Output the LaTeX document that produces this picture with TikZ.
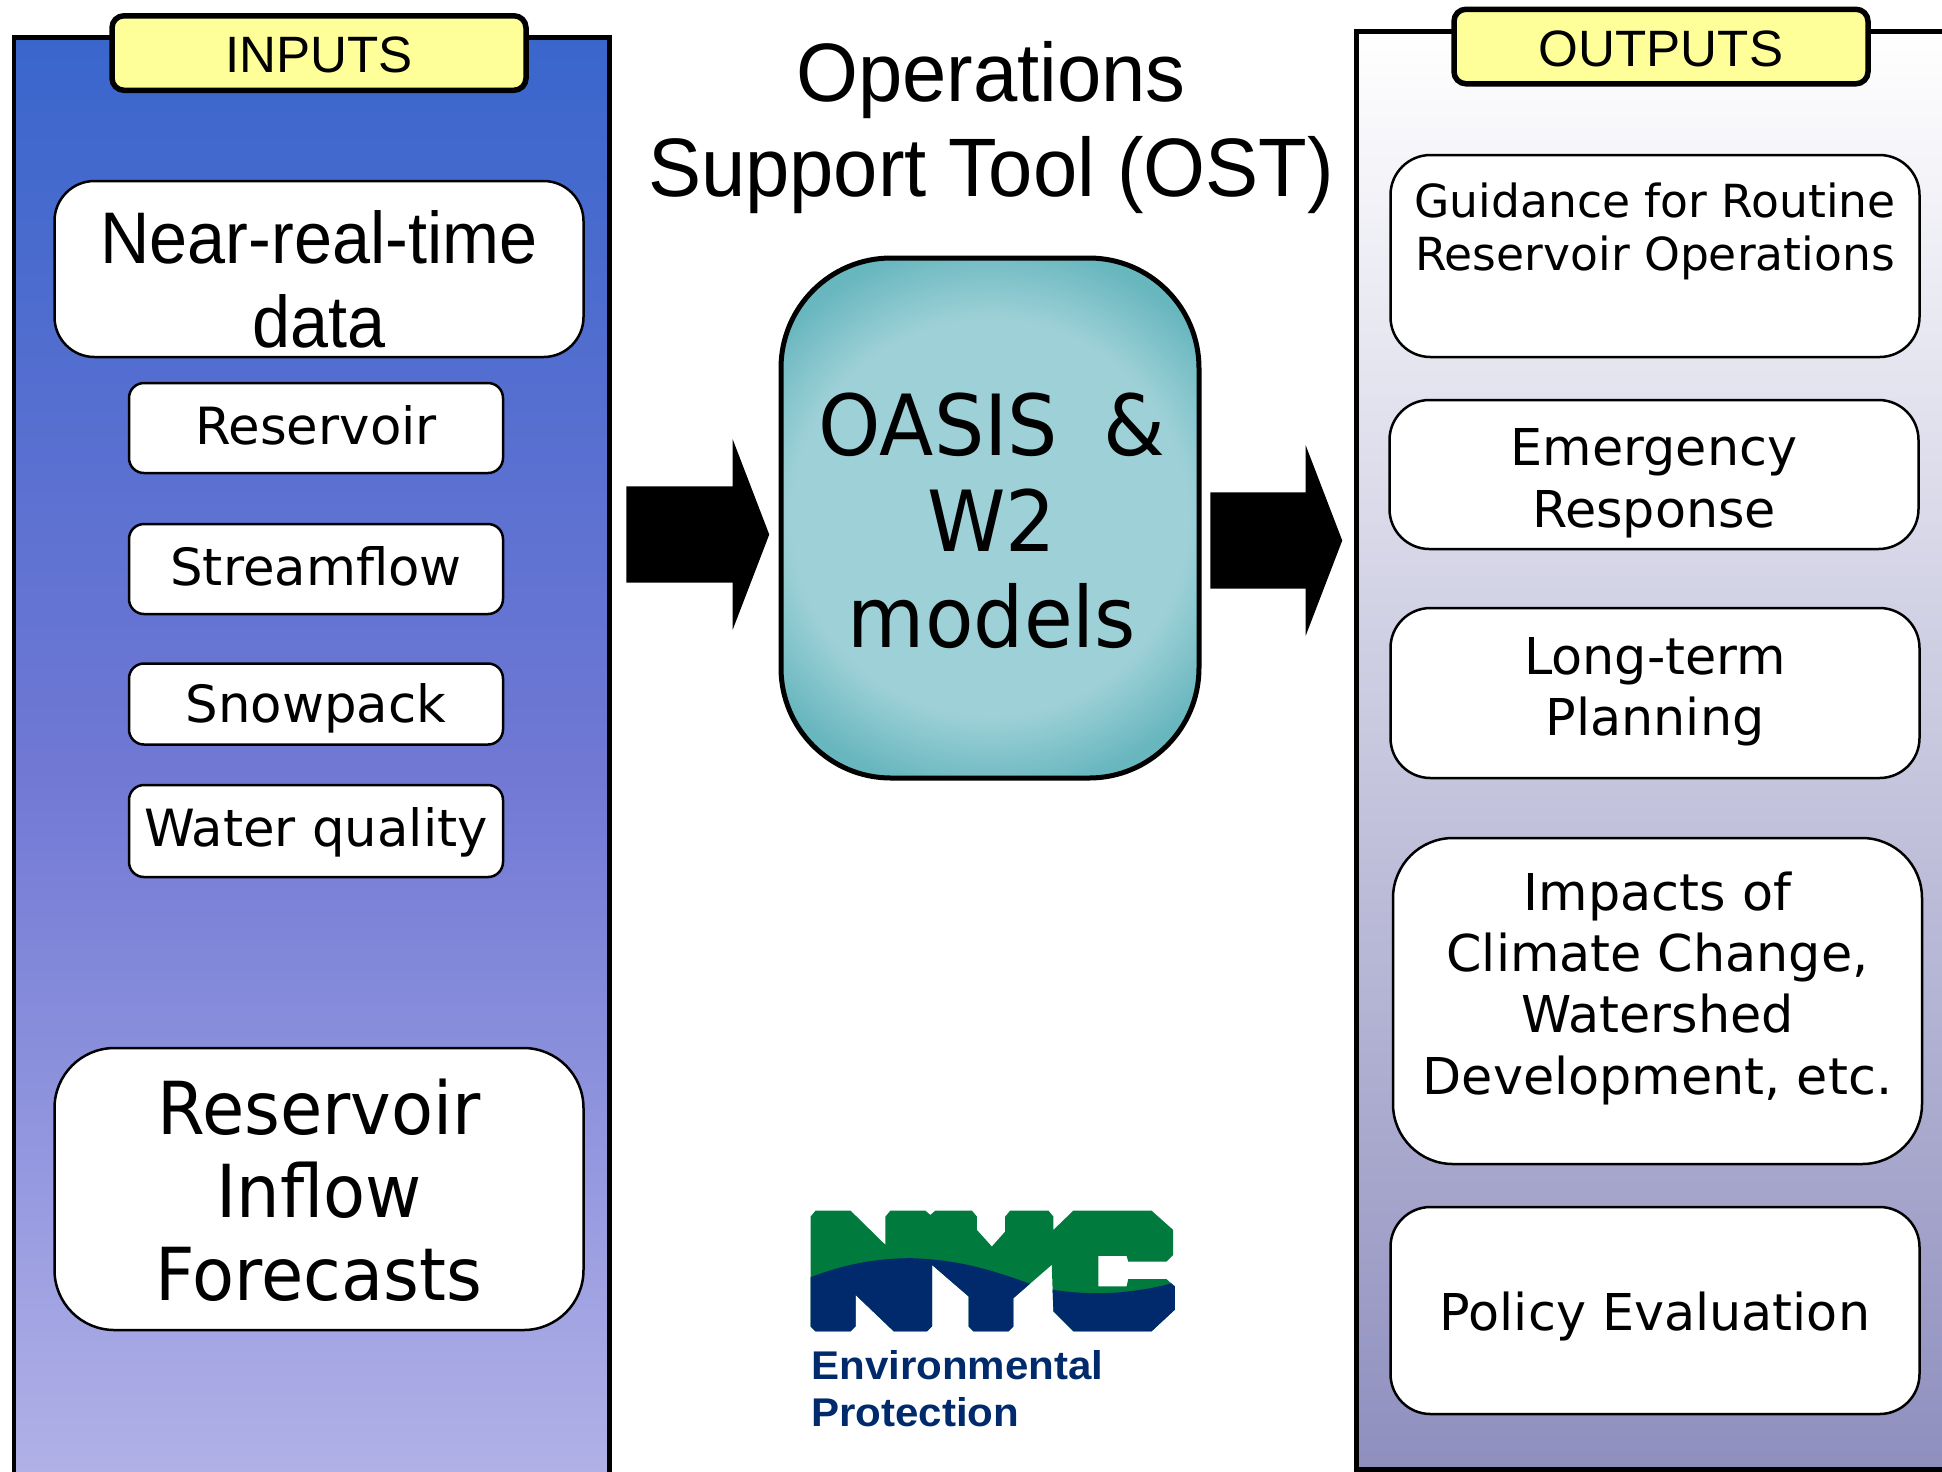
\documentclass[tikz,border=0pt]{standalone}
\usepackage{fontspec}
\usepackage{tikz}
\usetikzlibrary{shapes.arrows}
\setmainfont{Liberation Sans}
\newfontfamily\tightfont[FakeStretch=0.96]{Liberation Sans}
\newfontfamily\nearfont[FakeStretch=0.935]{Liberation Sans}
\newfontfamily\boxfont{DejaVu Sans}
\newfontfamily\narrowfont[FakeStretch=0.94]{DejaVu Sans}
\newfontfamily\logofont[FakeStretch=1.05]{Liberation Sans}
\definecolor{inputtop}{HTML}{3A66CC}
\definecolor{inputmid}{HTML}{7078D4}
\definecolor{inputbot}{HTML}{B3B3E8}
\definecolor{outputbot}{HTML}{8F8FBF}
\definecolor{tabyellow}{HTML}{FFFF99}
\definecolor{oasislight}{HTML}{9DD1D7}
\definecolor{oasisdark}{HTML}{68B6BE}
\definecolor{nycgreen}{HTML}{007A3D}
\definecolor{nycblue}{HTML}{002A6C}
\tikzset{
  panel/.style={draw=black,line width=0.5mm},
  tabbox/.style={draw=black,line width=0.55mm,fill=tabyellow,rounded corners=1.2mm,minimum width=4.14cm,minimum height=0.745cm,inner sep=0pt,text height=3.9mm,text depth=0pt,font=\fontsize{14.55}{17}\selectfont},
  whitebox/.style={draw=black,line width=0.25mm,fill=white,inner sep=0pt,align=center,minimum width=5.29cm},
  smallbox/.style={whitebox,rounded corners=1.5mm,minimum width=3.74cm,font=\boxfont\fontsize{14.6}{17}\selectfont},
  outbox/.style={whitebox,rounded corners=4mm},
  outtext/.style={align=center,inner sep=0pt,font=\boxfont\fontsize{14.45}{17.45}\selectfont},
  bigtext/.style={align=center,inner sep=0pt,font=\narrowfont\fontsize{20.8}{23.6}\selectfont},
  logotext/.style={anchor=west,inner sep=0pt,text=nycblue,font=\logofont\bfseries\fontsize{11.4}{13}\selectfont},
  blockarrow/.style={single arrow,fill=black,inner xsep=0pt,inner ysep=0.475cm,outer sep=0pt,single arrow head extend=0.47cm,single arrow tip angle=138},
}
\begin{document}
\begin{tikzpicture}[y=-1cm]
  \useasboundingbox (0,0) rectangle (19.42,14.71);
  % side panels, both run down to the page edge
  \draw[panel,top color=inputtop,bottom color=inputbot,middle color=inputmid] (0.14,0.37) rectangle (6.09,15.00);
  \draw[panel,top color=white,bottom color=outputbot] (13.56,0.31) rectangle (20.00,14.69);
  \node[tabbox] (inputs) at (3.19,0.53) {INPUTS};
  \node[tabbox] (outputs) at (16.61,0.465) {OUTPUTS};
  % input boxes
  \node[whitebox,rounded corners=4mm,minimum height=1.76cm] (neardata) at (3.19,2.69) {};
  \node[bigtext,font=\nearfont\fontsize{20.8}{23.8}\selectfont] (neardatatext) at ([yshift=-1.05mm]neardata.center) {Near-real-time\\data};
  \foreach \name/\yc/\hgt/\base/\txt in {reservoir/4.28/0.90/3.3/Reservoir,streamflow/5.69/0.90/3.3/Streamflow,snowpack/7.04/0.81/3.7/Snowpack,waterq/8.31/0.92/3.1/Water quality}{
    \node[smallbox,minimum height=\hgt cm,text height=\base mm,text depth=0pt] (\name) at (3.16,\yc) {\txt};}
  \node[whitebox,rounded corners=6mm,minimum height=2.82cm] (forecasts) at (3.19,11.89) {};
  \node[bigtext] (forecaststext) at ([yshift=-0.15mm]forecasts.center) {Reservoir\\Inflow\\Forecasts};
  % middle column
  \node[align=center,font=\tightfont\fontsize{23.6}{27}\selectfont] (title) at (9.91,1.275) {Operations\\Support Tool (OST)};
  \node[draw=black,fill=oasisdark,line width=0.5mm,rounded corners=1.1cm,minimum width=4.18cm,minimum height=5.20cm,inner sep=0pt,path picture={
    % rings from the corners inwards
    \foreach \r [evaluate=\r as \mix using {max(0,min(100,(\r-2.0)*100/0.8))}] in {2.8,2.77,...,1.97}{
      \fill[oasisdark!\mix!oasislight] (path picture bounding box.center) circle (\r);}
    }] (oasis) at (9.90,5.18) {};
  \node[align=center,inner sep=0pt,font=\narrowfont\fontsize{24}{27.3}\selectfont] (oasistext) at ([xshift=0.2mm,yshift=-0.25mm]oasis.center) {OASIS\hspace{0.2cm} \&\\W2\\models};
  \node[blockarrow,minimum height=1.43cm] (arrowin) at (6.885,5.345) {};
  \node[blockarrow,minimum height=1.32cm] (arrowout) at (12.67,5.405) {};
  % output boxes
  \node[outbox,minimum height=2.02cm] (guidance) at (16.55,2.56) {};
  \node[outtext,font=\boxfont\fontsize{12.97}{15.1}\selectfont] (guidancetext) at ([yshift=0.25mm]guidance.center) {Guidance for Routine\\Reservoir Operations\\\mbox{}};
  \foreach \name/\xc/\yc/\hgt/\rad/\dy/\txt in {emergency/16.54/4.745/1.49/4/-0.87/{Emergency\\Response},longterm/16.55/6.93/1.70/4/0.1/{Long-term\\Planning},impacts/16.575/10.01/3.26/6/1.27/{Impacts of\\Climate Change,\\Watershed\\Development, etc.},policy/16.55/13.105/2.07/4/-0.6/{Policy Evaluation}}{
    \node[outbox,rounded corners=\rad mm,minimum height=\hgt cm] (\name) at (\xc,\yc) {};
    \node[outtext] (\name text) at ([yshift=\dy mm]\name.center) {\txt};}
  % logo, traced in zoom pixels
  \begin{scope}[shift={(7.79,11.80)},x=0.003333cm,y=-0.003333cm]
    \def\nycshape{(95,110)--(110,92)--(215,92)--(320,195)--(320,110)--(335,92)--(440,92)--(455,105)--(470,92)--(580,92)--(595,110)--(595,150)--(640,200)--(680,155)--(680,110)--(695,92)--(810,92)--(825,110)--(825,150)--(885,92)--(1120,92)--(1185,150)--(1185,225)--(1165,245)--(1050,245)--(1045,228)--(960,228)--(960,320)--(1045,320)--(1050,298)--(1165,298)--(1190,320)--(1190,390)--(1120,455)--(885,455)--(825,395)--(820,255)--(705,355)--(705,440)--(690,455)--(585,455)--(570,440)--(570,350)--(460,255)--(460,440)--(445,455)--(345,455)--(230,345)--(230,440)--(215,455)--(110,455)--(95,440)--cycle}
    \fill[nycgreen] \nycshape;
    \begin{scope}
      \clip (80,298) .. controls (200,250) and (300,235) .. (400,235) .. controls (550,240) and (650,275) .. (750,310) -- (825,330) .. controls (950,350) and (1080,340) .. (1200,305) -- (1200,470) -- (80,470) -- cycle;
      \fill[nycblue] \nycshape;
    \end{scope}
    \node[logotext] (nycenv) at (95,558) {Environmental};
    \node[logotext] (nycprot) at (95,698) {Protection};
  \end{scope}
\end{tikzpicture}
\end{document}
